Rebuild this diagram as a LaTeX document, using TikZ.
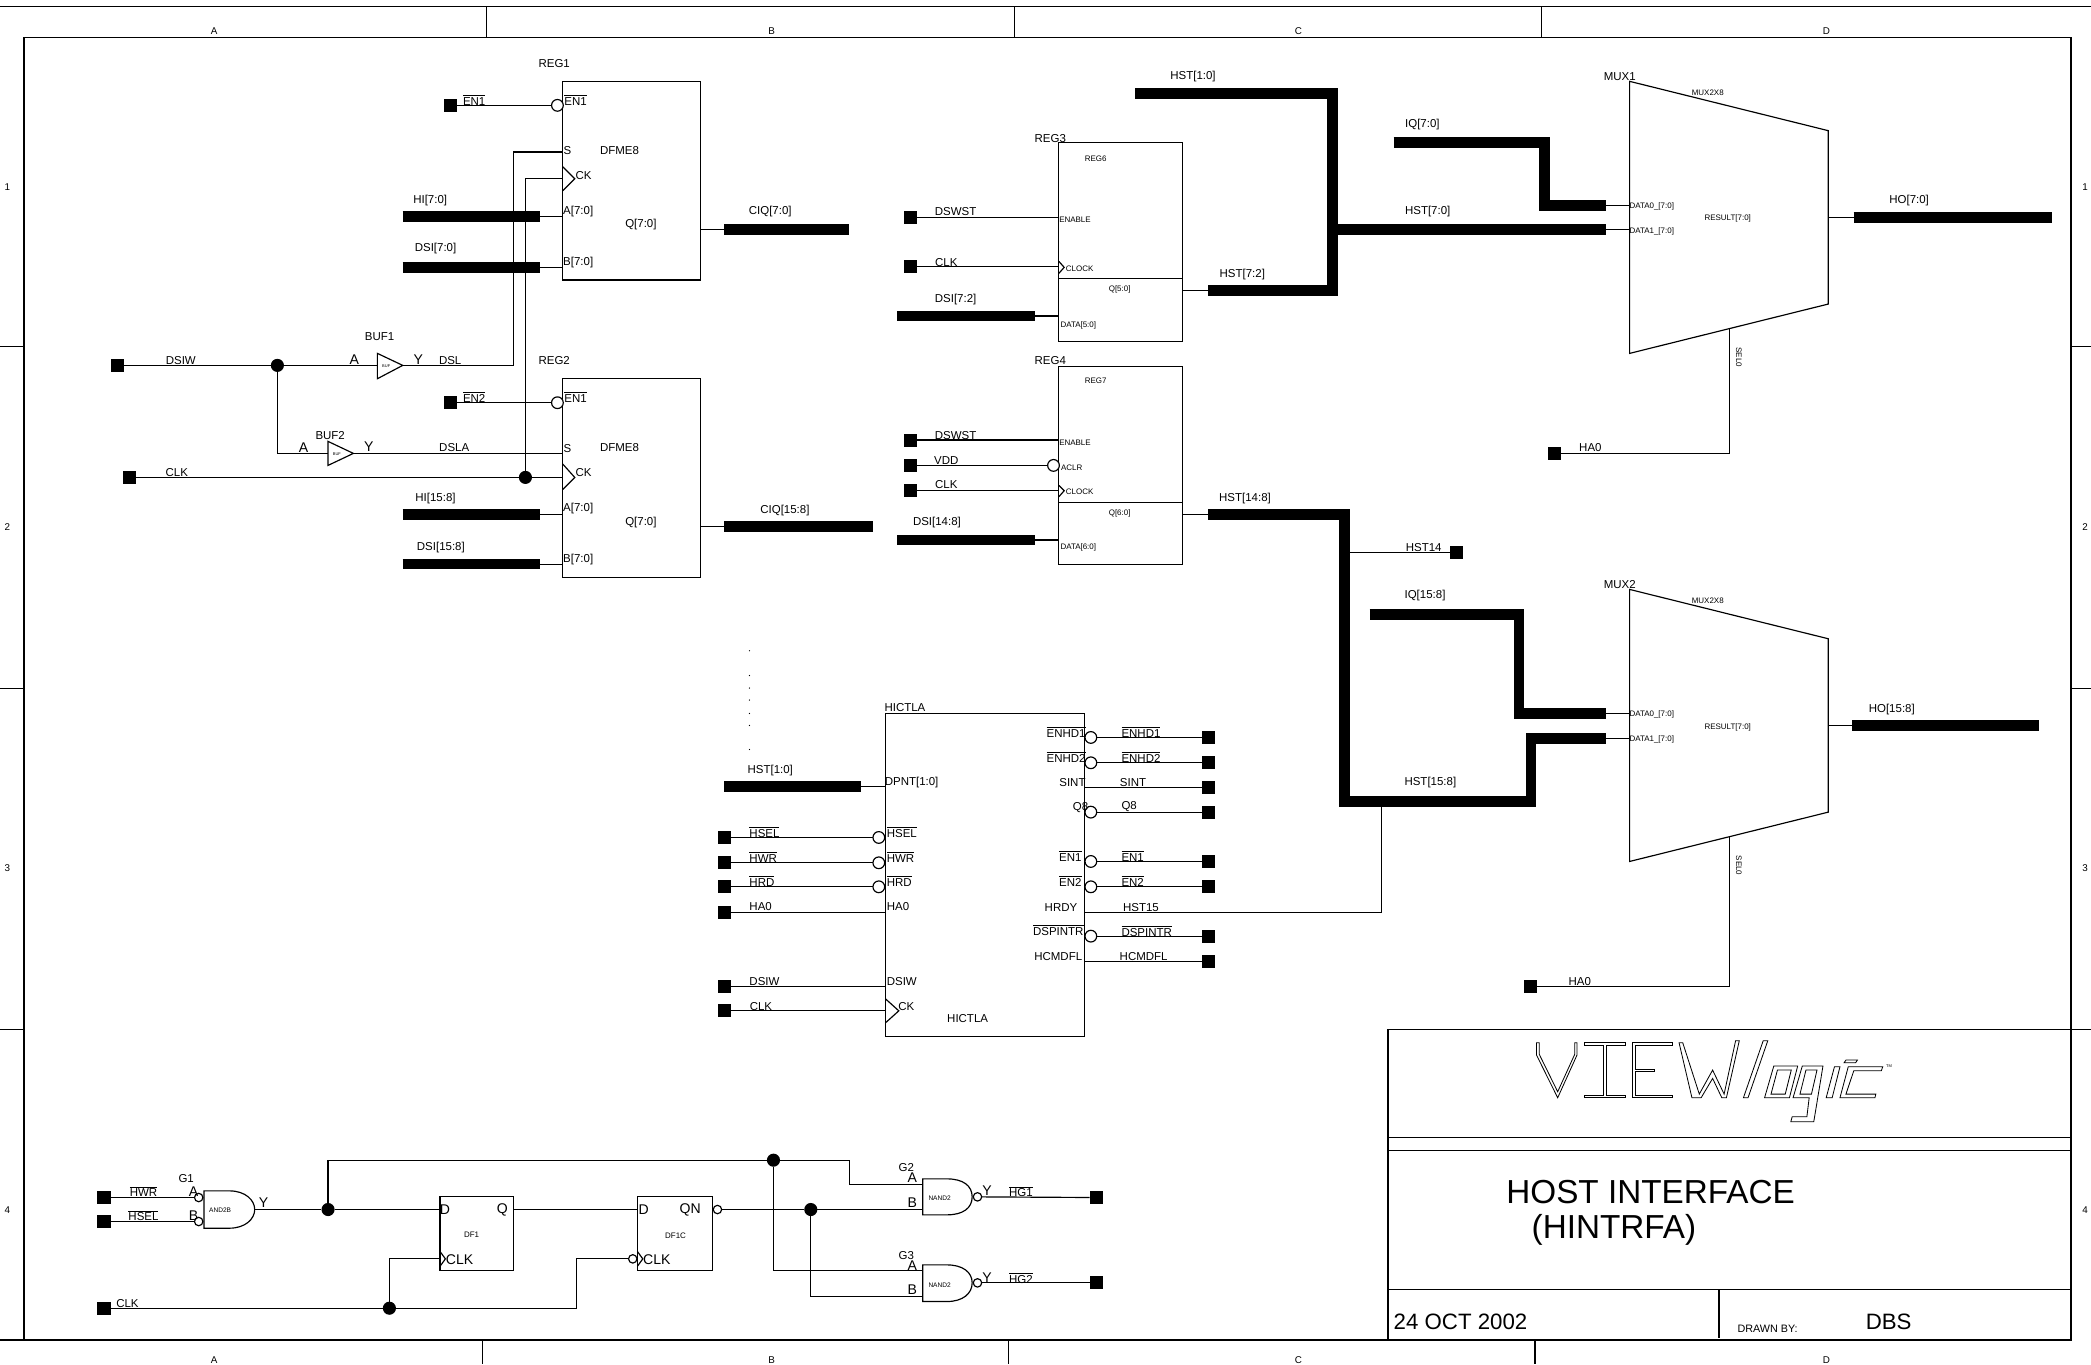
\documentclass[tikz,border=0pt]{standalone}
\usepackage{fontspec}
\setmainfont{Liberation Sans}
\usetikzlibrary{fit,calc}
\newcount\lc
\tikzset{
  wire/.style={line width=0.5pt,line join=miter},
  frameline/.style={line width=0.7pt},
  bus/.style={line width=4.6pt,line join=miter,line cap=butt},
  padbox/.style={fill=black,draw=none,minimum size=5.6pt,inner sep=0pt,outer sep=0pt},
  bub/.style={circle,draw,fill=white,line width=0.5pt,minimum size=5pt,inner sep=0pt,outer sep=0pt},
  dotj/.style={circle,fill=black,minimum size=5.6pt,inner sep=0pt,outer sep=0pt},
  blk/.style={draw,line width=0.5pt,inner sep=0pt,outer sep=0pt},
  lab/.style={inner sep=0pt,outer sep=0pt,font=\fontsize{4.9}{5.5}\selectfont},
  pinb/.style={inner sep=0pt,outer sep=0pt,font=\fontsize{6}{7}\selectfont},
  sm/.style={inner sep=0pt,outer sep=0pt,font=\fontsize{3.4}{4}\selectfont},
  edge/.style={inner sep=0pt,outer sep=0pt,font=\fontsize{4.2}{5}\selectfont},
  gt/.style={inner sep=0pt,outer sep=0pt,font=\fontsize{2.8}{3}\selectfont},
  tiny/.style={inner sep=0pt,outer sep=0pt,font=\fontsize{1.7}{2}\selectfont},
  big/.style={inner sep=0pt,outer sep=0pt,anchor=west,font=\fontsize{14.2}{16}\selectfont},
  mid/.style={inner sep=0pt,outer sep=0pt,anchor=west,font=\fontsize{9.5}{12}\selectfont},
}
\newcommand{\txt}[3][lab]{\global\advance\lc by 1 \node[#1] (t\the\lc) at ($(#2)+(0.6,0.7)$) {#3};}
\newcommand{\ovl}[1]{\vbox{\hrule height .3pt \kern .75pt \hbox{#1}}}
\newcommand{\pad}[2]{\node[padbox] (#1) at (#2) {};}
\newcommand{\block}[3]{\coordinate (#1a) at (#2);\coordinate (#1b) at (#3);\node[blk,fit=(#1a)(#1b)] (#1) {};}
\begin{document}
\begin{tikzpicture}[x=0.02cm,y=-0.02cm]
\useasboundingbox (0,0) rectangle (1568,1023);
\clip (0,0) rectangle (1568,1023);
% ---------- sheet frame
\coordinate (fl) at (18,28); \coordinate (fr) at (1553,1005);
\node[draw,frameline,inner sep=0pt,fit=(fl)(fr)] (sheet) {};
\draw[frameline] (0,5) -- (1568,5);
\draw[frameline] (0,1005) -- (18,1005);
\foreach \x in {365,761,1156} \draw[wire] (\x,5) -- (\x,28);
\foreach \x in {362,756,1151} \draw[wire] (\x,1005) -- (\x,1023);
\foreach \y in {260,516,772} {\draw[wire] (0,\y) -- (18,\y); \draw[wire] (1553,\y) -- (1568,\y);}
\txt[edge]{160,22.5}{A}\txt[edge]{578,22.5}{B}\txt[edge]{973,22.5}{C}\txt[edge]{1369,22.5}{D}
\txt[edge]{160,1019}{A}\txt[edge]{578,1019}{B}\txt[edge]{973,1019}{C}\txt[edge]{1369,1019}{D}
\txt[edge]{5,139.5}{1}\txt[edge]{5,394.5}{2}\txt[edge]{5,650.5}{3}\txt[edge]{5,906.5}{4}
\txt[edge]{1563,139.5}{1}\txt[edge]{1563,394.5}{2}\txt[edge]{1563,650.5}{3}\txt[edge]{1563,906.5}{4}

% ---------- REG1
\block{regA}{422,61}{525,210}
\txt{415,47}{REG1}\txt{464,112}{DFME8}\txt{480,168}{Q[7:0]}
\pad{pEnA}{338,79}\node[bub] (bEnA) at (418,79) {};
\draw[wire] (pEnA) -- (bEnA);
\txt{355,74.5}{\ovl{EN1}}\txt{431,74.5}{\ovl{EN1}}
\coordinate (sA) at (422,114);\txt{425,112}{S}
\coordinate (ckA) at (422,134);\draw[wire] (422,125) -- (431,134) -- (422,143);\txt{437,131}{CK}
\coordinate (aA) at (422,162.5);\coordinate (bA) at (422,200.5);
\txt{433,158}{A[7:0]}\txt{433,196}{B[7:0]}
\coordinate (hiA) at (405,162.5);\coordinate (hiAs) at (302,162.5);
\draw[bus] (hiAs) -- (hiA);\draw[wire] (hiA) -- (aA);\txt{322,150}{HI[7:0]}
\coordinate (dsA) at (405,200.5);\coordinate (dsAs) at (302,200.5);
\draw[bus] (dsAs) -- (dsA);\draw[wire] (dsA) -- (bA);\txt{326,186}{DSI[7:0]}
\coordinate (qA) at (525,172);\coordinate (ciA) at (543,172);\coordinate (ciAe) at (637,172);
\draw[wire] (qA) -- (ciA);\draw[bus] (ciA) -- (ciAe);\txt{577,158}{CIQ[7:0]}

% ---------- REG2
\block{regB}{422,284}{525,433}
\txt{415,270}{REG2}\txt{464,335}{DFME8}\txt{480,391}{Q[7:0]}
\pad{pEnB}{338,302}\node[bub] (bEnB) at (418,302) {};
\draw[wire] (pEnB) -- (bEnB);
\txt{355,297.5}{\ovl{EN2}}\txt{431,297.5}{\ovl{EN1}}
\coordinate (sB) at (422,340);\txt{425,336}{S}
\coordinate (ckB) at (422,358);\draw[wire] (422,348) -- (431,358) -- (422,367);\txt{437,354}{CK}
\coordinate (aB) at (422,386);\coordinate (bB) at (422,423);
\txt{433,381}{A[7:0]}\txt{433,419}{B[7:0]}
\coordinate (hiB) at (405,386);\coordinate (hiBs) at (302,386);
\draw[bus] (hiBs) -- (hiB);\draw[wire] (hiB) -- (aB);\txt{326,373}{HI[15:8]}
\coordinate (dsB) at (405,423);\coordinate (dsBs) at (302,423);
\draw[bus] (dsBs) -- (dsB);\draw[wire] (dsB) -- (bB);\txt{330,410}{DSI[15:8]}
\coordinate (qB) at (525,395);\coordinate (ciB) at (543,395);\coordinate (ciBe) at (655,395);
\draw[wire] (qB) -- (ciB);\draw[bus] (ciB) -- (ciBe);\txt{588,382}{CIQ[15:8]}

% ---------- buffers and left nets
\pad{pDsiw}{88,274}\node[dotj] (jDsiw) at (208,274) {};
\coordinate (bfAi) at (283,274);\coordinate (bfAo) at (302,274);
\draw[wire] (283,265) -- (bfAo) -- (283,284) -- cycle;
\txt[tiny]{289,274}{BUF}
\draw[wire] (pDsiw) -- (jDsiw) -- (bfAi);
\coordinate (dslc) at (385,274);
\draw[wire] (bfAo) -- (dslc) -- (385,114) -- (sA);
\txt{135,270}{DSIW}\txt[pinb]{265,269}{A}\txt[pinb]{313,269}{Y}\txt{337,270}{DSL}\txt{284,252}{BUF1}
\coordinate (bfBi) at (246,340);\coordinate (bfBo) at (265,340);
\draw[wire] (246,331) -- (bfBo) -- (246,349) -- cycle;
\txt[tiny]{252,340}{BUF}
\draw[wire] (jDsiw) -- (208,340) -- (bfBi);
\draw[wire] (bfBo) -- (sB);
\txt[pinb]{227,335}{A}\txt[pinb]{276,334}{Y}\txt{340,335}{DSLA}\txt{247,326}{BUF2}
\pad{pClk}{97,358}\node[dotj] (jClk) at (394,358) {};
\draw[wire] (pClk) -- (jClk) -- (ckB);
\draw[wire] (jClk) -- (394,134) -- (ckA);
\txt{132,354}{CLK}

% ---------- REG3
\block{regC}{794,107}{887,256}
\draw[wire] (794,209) -- (887,209);
\txt{787,103}{REG3}\txt[sm]{821,118}{REG6}\txt[sm]{839,216}{Q[5:0]}
\pad{pSwC}{683,163}\coordinate (enC) at (794,163);\draw[wire] (pSwC) -- (enC);
\txt{716,158}{DSWST}\txt[sm]{805.5,164}{ENABLE}
\pad{pClkC}{683,200}\coordinate (ckC) at (794,200);\draw[wire] (pClkC) -- (ckC);
\draw[wire] (794,196) -- (798,200.5) -- (794,205);
\txt{709,196}{CLK}\txt[sm]{809,201}{CLOCK}
\coordinate (dsCs) at (673,237);\coordinate (dsC) at (776,237);\coordinate (dC) at (794,237);
\draw[bus] (dsCs) -- (dsC);\draw[wire] (dsC) -- (dC);
\txt{716,224}{DSI[7:2]}\txt[sm]{808,243}{DATA[5:0]}
\coordinate (qC) at (887,218);\coordinate (hC) at (906,218);
\draw[wire] (qC) -- (hC);
\coordinate (hTop) at (851,70);\coordinate (hJ) at (999,172);
\draw[bus] (hC) -- (999,218) -- (999,70) -- (hTop);
\txt{931,205}{HST[7:2]}\txt{894,57}{HST[1:0]}

% ---------- REG4
\block{regD}{794,275}{887,423}
\draw[wire] (794,377) -- (887,377);
\txt{787,270}{REG4}\txt[sm]{821,285}{REG7}\txt[sm]{839,384}{Q[6:0]}
\pad{pSwD}{683,330}\coordinate (enD) at (794,330);\draw[wire] (pSwD) -- (enD);
\txt{716,326}{DSWST}\txt[sm]{805.5,331}{ENABLE}
\pad{pVdd}{683,349}\node[bub] (bVdd) at (790,349) {};\draw[wire] (pVdd) -- (bVdd);
\txt{709,345}{VDD}\txt[sm]{803,350}{ACLR}
\pad{pClkD}{683,368}\coordinate (ckD) at (794,368);\draw[wire] (pClkD) -- (ckD);
\draw[wire] (794,364) -- (798,368) -- (794,372.5);
\txt{709,363}{CLK}\txt[sm]{809,368}{CLOCK}
\coordinate (dsDs) at (673,405);\coordinate (dsD) at (776,405);\coordinate (dD) at (794,405);
\draw[bus] (dsDs) -- (dsD);\draw[wire] (dsD) -- (dD);
\txt{702,391}{DSI[14:8]}\txt[sm]{808,410}{DATA[6:0]}
\coordinate (qD) at (887,386);\coordinate (hD) at (906,386);
\draw[wire] (qD) -- (hD);
\coordinate (m2b) at (1204,553.5);
\draw[bus] (hD) -- (1008,386) -- (1008,601) -- (1148,601) -- (1148,553.5) -- (m2b);
\txt{933,373}{HST[14:8]}\txt{1072,586}{HST[15:8]}
\pad{pH14}{1092,414}\coordinate (h14j) at (1008,414);\draw[wire] (h14j) -- (pH14);
\txt{1067,410}{HST14}

% ---------- MUX1
\coordinate (muxAa) at (1222,61);\coordinate (muxAb) at (1371,98);
\coordinate (muxAc) at (1371,228);\coordinate (muxAd) at (1222,265);
\draw[wire] (muxAa) -- (muxAb) -- (muxAc) -- (muxAd) -- cycle;
\txt{1214,57}{MUX1}\txt[sm]{1280,69}{MUX2X8}\txt[sm]{1295,163}{RESULT[7:0]}
\txt[sm]{1238,154}{DATA0\_[7:0]}\txt[sm]{1238,172.5}{DATA1\_[7:0]}
\coordinate (m1a) at (1204,154);\coordinate (m1ap) at (1222,154);
\coordinate (m1b) at (1204,172);\coordinate (m1bp) at (1222,172);
\draw[wire] (m1a) -- (m1ap);\draw[wire] (m1b) -- (m1bp);
\coordinate (iqA) at (1045,107);
\draw[bus] (iqA) -- (1158,107) -- (1158,154) -- (m1a);
\draw[bus] (hJ) -- (m1b);
\txt{1066,93}{IQ[7:0]}\txt{1070,158}{HST[7:0]}
\coordinate (moA) at (1371,163);\coordinate (hoA) at (1390,163);\coordinate (hoAe) at (1539,163);
\draw[wire] (moA) -- (hoA);\draw[bus] (hoA) -- (hoAe);\txt{1431,150}{HO[7:0]}
\coordinate (selA) at (1297,247);\pad{pHaA}{1166,340}
\draw[wire] (selA) -- (1297,340) -- (pHaA);
\txt{1192,335}{HA0}\node[sm,rotate=-90] (selAt) at (1304,268) {SEL0};

% ---------- MUX2
\coordinate (muxBa) at (1222,442);\coordinate (muxBb) at (1371,479);
\coordinate (muxBc) at (1371,609);\coordinate (muxBd) at (1222,646);
\draw[wire] (muxBa) -- (muxBb) -- (muxBc) -- (muxBd) -- cycle;
\txt{1214,438}{MUX2}\txt[sm]{1280,450}{MUX2X8}\txt[sm]{1295,545}{RESULT[7:0]}
\txt[sm]{1238,535}{DATA0\_[7:0]}\txt[sm]{1238,554}{DATA1\_[7:0]}
\coordinate (m2a) at (1204,535);\coordinate (m2ap) at (1222,535);\coordinate (m2bp) at (1222,553.5);
\draw[wire] (m2a) -- (m2ap);\draw[wire] (m2b) -- (m2bp);
\coordinate (iqB) at (1027,461);
\draw[bus] (iqB) -- (1139,461) -- (1139,535) -- (m2a);
\txt{1068,446}{IQ[15:8]}
\coordinate (moB) at (1371,544);\coordinate (hoB) at (1389,544);\coordinate (hoBe) at (1529,544);
\draw[wire] (moB) -- (hoB);\draw[bus] (hoB) -- (hoBe);\txt{1418,531}{HO[15:8]}
\coordinate (selB) at (1297,628);\pad{pHaB}{1148,740}
\draw[wire] (selB) -- (1297,740) -- (pHaB);
\txt{1184,735}{HA0}\node[sm,rotate=-90] (selBt) at (1304,649) {SEL0};

% ---------- HICTLA
\block{hic}{664,535}{813,777}
\txt{678,530}{HICTLA}\txt{725,763}{HICTLA}
\foreach \y in {488,506.6,516,525,535,544,562} \fill (562,\y) circle (0.5);
\coordinate (dpS) at (543,590);\coordinate (dpE) at (646,590);\coordinate (dpP) at (664,590);
\draw[bus] (dpS) -- (dpE);\draw[wire] (dpE) -- (dpP);
\txt{577,577}{HST[1:0]}\txt{683,586}{DPNT[1:0]}
\foreach \n/\y/\s in {a/628/HSEL,b/647/HWR,c/665/HRD}{
  \pad{pL\n}{543,\y}\node[bub] (bL\n) at (659,\y) {};\draw[wire] (pL\n) -- (bL\n);
  \node[lab,anchor=west] (tL\n) at (562,\y-4) {\ovl{\s}};
  \node[lab,anchor=west] (tP\n) at (665,\y-4) {\ovl{\s}};}
\foreach \n/\y/\s in {d/684/HA0,e/740/DSIW}{
  \pad{pL\n}{543,\y}\coordinate (cL\n) at (664,\y);\draw[wire] (pL\n) -- (cL\n);
  \node[lab,anchor=west] (tL\n) at (562,\y-4) {\s};
  \node[lab,anchor=west] (tP\n) at (665,\y-4) {\s};}
\pad{pLf}{543,758}\coordinate (cLf) at (664,758);\draw[wire] (pLf) -- (cLf);
\draw[wire] (664,749) -- (674,758) -- (664,767);
\txt{570,754}{CLK}\txt{679,754}{CK}
\foreach \n/\y/\s in {a/553/ENHD1,b/572/ENHD2,d/646/EN1,e/665/EN2,f/702/DSPINTR}{
  \pad{pR\n}{906,\y}\node[bub] (bR\n) at (818,\y) {};\draw[wire] (bR\n) -- (pR\n);
  \node[lab,anchor=west] (tR\n) at (841,\y-4) {\ovl{\s}};}
\pad{pRc}{906,609}\node[bub] (bRc) at (818,609) {};\draw[wire] (bRc) -- (pRc);
\node[lab,anchor=west] (tRc) at (841,605) {Q8};
\node[lab,anchor=east] (uRa) at (814,549) {\ovl{ENHD1}};
\node[lab,anchor=east] (uRb) at (814,568) {\ovl{ENHD2}};
\node[lab,anchor=east] (uRc) at (816,605.5) {Q8};
\node[lab,anchor=east] (uRd) at (811,642) {\ovl{EN1}};
\node[lab,anchor=east] (uRe) at (811,660.5) {\ovl{EN2}};
\node[lab,anchor=east] (uRf) at (812.5,697.5) {\ovl{DSPINTR}};
\pad{pRg}{906,590.5}\coordinate (cRg) at (813,590.5);\draw[wire] (cRg) -- (pRg);
\txt{849,586}{SINT}\node[lab,anchor=east] (uRg) at (814,586.5) {SINT};
\pad{pRh}{906,721}\coordinate (cRh) at (813,721);\draw[wire] (cRh) -- (pRh);
\txt{857,716.5}{HCMDFL}\node[lab,anchor=east] (uRh) at (811.5,717) {HCMDFL};
\coordinate (cRy) at (813,684);
\draw[wire] (cRy) -- (1036,684) -- (1036,601);
\txt{795,679.5}{HRDY}\txt{855,679.5}{HST15}

% ---------- bottom logic
\pad{pHw}{78,898}\pad{pHs}{78,916}
\node[bub,minimum size=3.6pt] (bHw) at (149,898) {};\node[bub,minimum size=3.6pt] (bHs) at (149,916) {};
\draw[wire] (pHw) -- (bHw);\draw[wire] (pHs) -- (bHs);
\txt{107,893}{\ovl{HWR}}\txt{107,911}{\ovl{HSEL}}
\txt[pinb]{144.5,893}{A}\txt[pinb]{144.5,911}{B}\txt{139,883}{G1}\txt[pinb]{197,901.5}{Y}
\txt[gt]{164.5,907}{AND2B}
\coordinate (g1y) at (191,907);
\draw[wire] (153,893) -- (172,893) .. controls (184,893) and (191,900) .. (g1y) .. controls (191,914) and (184,921) .. (172,921) -- (153,921) -- cycle;
\block{dfA}{330,897}{385,953}
\block{dfB}{478,897}{534,953}
\coordinate (dA) at (330,907);\coordinate (qQ) at (385,907);\coordinate (dB) at (478,907);
\node[dotj] (jY) at (246,907) {};
\draw[wire] (g1y) -- (jY) -- (dA);\draw[wire] (qQ) -- (dB);
\txt[pinb]{333,906.5}{D}\txt[pinb]{376,906.5}{Q}\txt[sm]{353,925}{DF1}
\txt[pinb]{482,906.5}{D}\txt[pinb]{517,906.5}{QN}\txt[sm]{506,926}{DF1C}
\txt[pinb]{344,944}{CLK}\txt[pinb]{492,944}{CLK}
\draw[wire] (330,938.5) -- (334,944) -- (330,949.5);
\draw[wire] (478,938.5) -- (482,944) -- (478,949.5);
\node[bub,minimum size=3.6pt] (bQn) at (538,907) {};
\node[bub,minimum size=3.6pt] (bCk) at (474.5,944) {};
\node[dotj] (jQn) at (608,907) {};
\node[dotj] (jTop) at (580,870) {};
\coordinate (g2a) at (692,888);\coordinate (g2b) at (692,907);
\coordinate (g3a) at (692,953);\coordinate (g3b) at (692,972);
\draw[wire] (jY) -- (246,870) -- (jTop) -- (637,870) -- (637,888) -- (g2a);
\draw[wire] (bQn) -- (jQn) -- (g2b);
\draw[wire] (jTop) -- (580,953) -- (g3a);
\draw[wire] (jQn) -- (608,972) -- (g3b);
\pad{pCkB}{78,981}\node[dotj] (jCkB) at (292,981) {};
\coordinate (ckDa) at (330,944);
\draw[wire] (pCkB) -- (jCkB) -- (432,981) -- (432,944) -- (bCk);
\draw[wire] (jCkB) -- (292,944) -- (ckDa);
\txt{95,977}{CLK}
\draw[wire] (692,884) -- (710,884) .. controls (722,884) and (729,889) .. (729,897.5) .. controls (729,906) and (722,911) .. (710,911) -- (692,911) -- cycle;
\node[bub,minimum size=3.6pt] (bG2) at (733,897.5) {};
\pad{pHgA}{822,898}\draw[wire] (bG2) -- (pHgA);
\txt{679,875}{G2}\txt[pinb]{683.5,882.5}{A}\txt[pinb]{683.5,901.5}{B}\txt[pinb]{739.5,892.5}{Y}\txt{765,893}{\ovl{HG1}}
\txt[gt]{704,898}{NAND2}
\draw[wire] (692,948.5) -- (710,948.5) .. controls (722,948.5) and (729,954) .. (729,962) .. controls (729,970) and (722,976) .. (710,976) -- (692,976) -- cycle;
\node[bub,minimum size=3.6pt] (bG3) at (733,962) {};
\pad{pHgB}{822,962}\draw[wire] (bG3) -- (pHgB);
\txt{679,941}{G3}\txt[pinb]{683.5,948.5}{A}\txt[pinb]{683.5,966.5}{B}\txt[pinb]{739.5,957.5}{Y}\txt{765,958}{\ovl{HG2}}
\txt[gt]{704,963}{NAND2}

% ---------- title block
\coordinate (ttl) at (1041,772);\coordinate (tbr) at (1553,1005);
\node[draw,frameline,inner sep=0pt,fit=(ttl)(tbr)] (titleblk) {};
\foreach \y in {853,863,967} \draw[wire] (1041,\y) -- (1553,\y);
\draw[wire] (1289,967) -- (1289,1003);
\txt[big]{1129,893.5}{HOST INTERFACE}
\txt[big]{1148,921.5}{(HINTRFA)}
\txt[mid]{1044.5,990.5}{24 OCT 2002}
\txt[mid]{1398.5,990.5}{DBS}
\node[inner sep=0pt,outer sep=0pt,anchor=west,font=\fontsize{4.6}{5}\selectfont] (tDrawn) at (1303,996.5) {DRAWN BY:};

% logo
\begin{scope}[shift={(1027.4,764.9)},x=0.0069cm,y=-0.005cm,line width=0.35pt]
\draw (362,68)--(362,105)--(408,233)--(450,105)--(450,68)--(445,68)--(445,103)--(408,215)--(368,103)--(368,68)--cycle;
\draw (467,68)--(555,68)--(555,76)--(515,76)--(515,225)--(555,225)--(555,233)--(467,233)--(467,225)--(507,225)--(507,76)--(467,76)--cycle;
\draw (570,68)--(658,68)--(658,76)--(578,76)--(578,147)--(618,147)--(618,155)--(578,155)--(578,225)--(658,225)--(658,233)--(570,233)--cycle;
\draw (672,68)--(680,68)--(716,222)--(745,150)--(770,222)--(795,62)--(803,62)--(775,233)--(765,233)--(745,175)--(720,233)--(700,233)--cycle;
\draw (855,62)--(865,62)--(822,233)--(812,233)--cycle;
\draw (878,138)--(930,138)--(912,233)--(858,233)--cycle;
\draw (886,150)--(916,150)--(903,222)--(872,222)--cycle;
\draw (940,138)--(985,138)--(965,305)--(915,305)--(918,290)--(950,290)--(955,233)--(920,233)--cycle;
\draw (948,150)--(972,150)--(960,222)--(935,222)--cycle;
\draw (1010,140)--(1022,140)--(1005,233)--(992,233)--cycle;
\draw (1035,120)--(1060,120)--(1056,128)--(1031,128)--cycle;
\draw (1040,140)--(1115,140)--(1112,152)--(1052,152)--(1035,222)--(1100,222)--(1098,233)--(1022,233)--cycle;
\end{scope}
\node[tiny] (tTm) at (1416.5,799.8) {TM};
\end{tikzpicture}
\end{document}
